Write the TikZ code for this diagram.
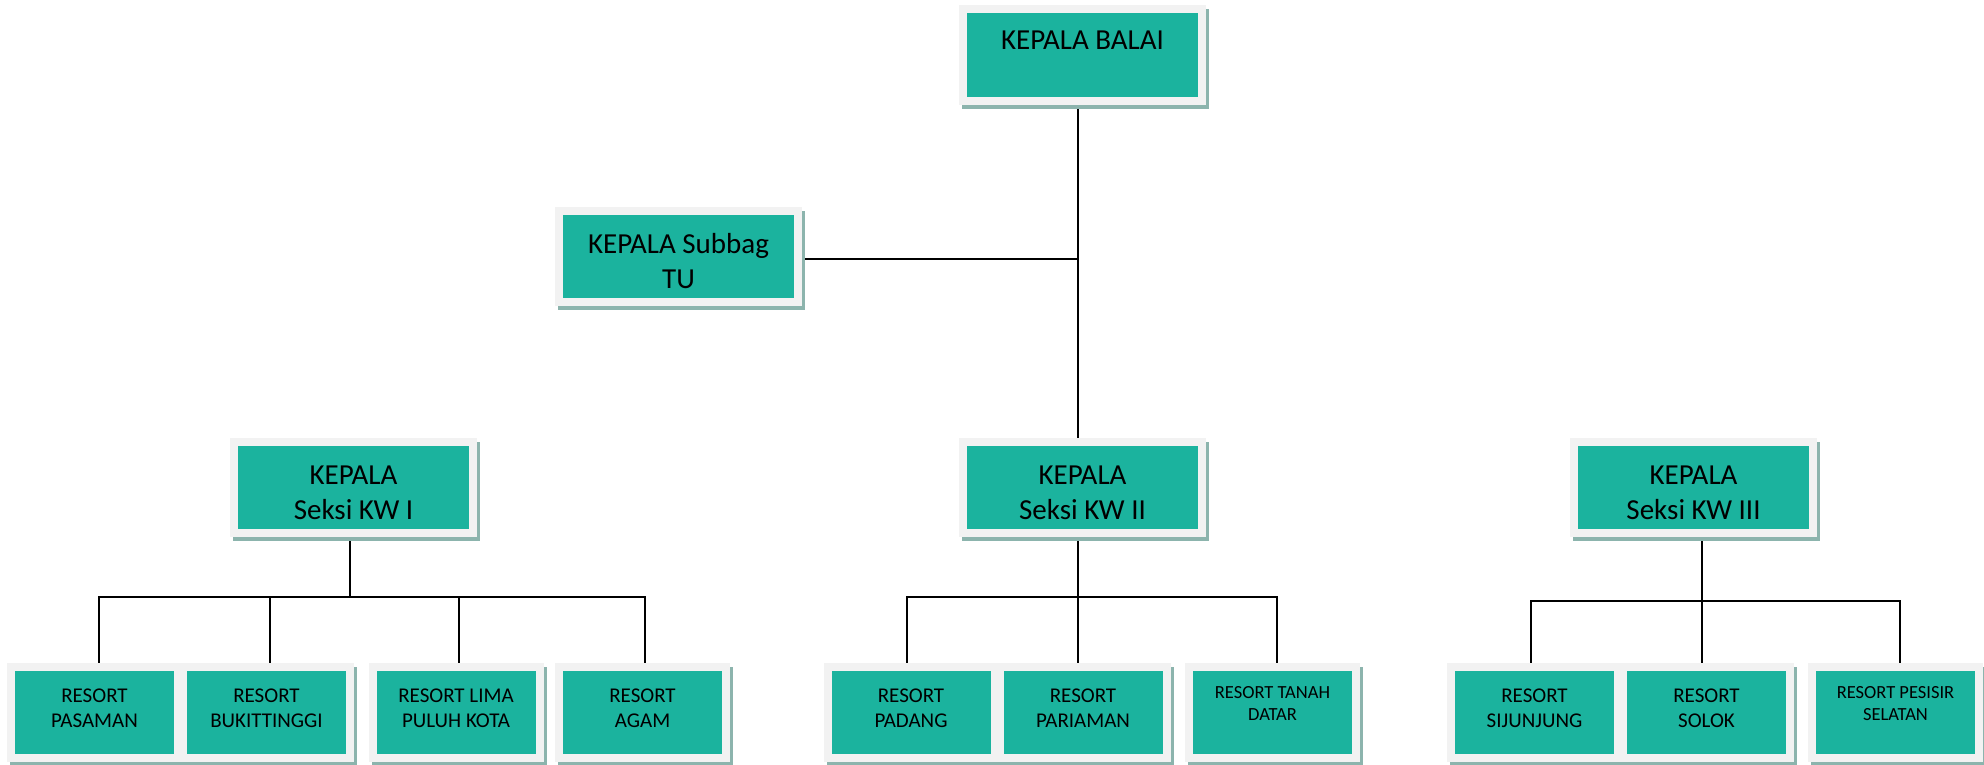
\documentclass[tikz,border=0pt]{standalone}
\usepackage{fontspec}
\setmainfont{Carlito}
\usetikzlibrary{backgrounds}
\definecolor{tealbox}{RGB}{27,179,158}
\definecolor{framegray}{RGB}{242,242,242}
\definecolor{shadowc}{RGB}{140,180,173}
\newcommand\boxtxt[6]{\parbox[c][#2][t]{#1}{\centering\fontsize{#4}{#5}\selectfont\rule{0pt}{#3}#6\par}}
\newcommand\topb[1]{\boxtxt{231pt}{83pt}{38pt}{29}{35}{#1}}
\newcommand\resb[1]{\boxtxt{159pt}{83pt}{31pt}{21}{25.6}{#1}}
\newcommand\resc[1]{\boxtxt{159pt}{83pt}{27pt}{18.5}{22.6}{#1}}
\tikzset{
  orgbox/.style={fill=tealbox, draw=framegray, line width=8pt, inner sep=4pt, outer sep=0pt,
    preaction={draw=shadowc, fill=shadowc, line width=8pt, transform canvas={xshift=3pt,yshift=-4pt}}},
  link/.style={line width=1.6pt, draw=black}
}
\begin{document}
\begin{tikzpicture}[x=1pt,y=-1pt]
\useasboundingbox (0,0) rectangle (1984,765);
% top level
\node[orgbox] (balai)  at (1082.5,55)  {\boxtxt{231pt}{84pt}{37pt}{29}{35}{KEPALA BALAI}};
\node[orgbox] (subbag) at (678.5,256.5) {\topb{KEPALA Subbag\\TU}};
\node[orgbox] (kw1) at (353.5,487.5)  {\topb{KEPALA\\Seksi KW I}};
\node[orgbox] (kw2) at (1082.5,487.5) {\topb{KEPALA\\Seksi KW II}};
\node[orgbox] (kw3) at (1693.5,487.5) {\topb{KEPALA\\Seksi KW III}};
% resorts
\node[orgbox] (pasaman) at (94.5,712.5)  {\resb{RESORT\\PASAMAN}};
\node[orgbox] (bukit)   at (266.5,712.5) {\resb{RESORT\\BUKITTINGGI}};
\node[orgbox] (lima)    at (456,712.5)   {\resb{RESORT LIMA\\PULUH KOTA}};
\node[orgbox] (agam)    at (642.5,712.5) {\resb{RESORT\\AGAM}};
\node[orgbox] (padang)  at (911,712.5)   {\resb{RESORT\\PADANG}};
\node[orgbox] (pariaman) at (1083,712.5) {\resb{RESORT\\PARIAMAN}};
\node[orgbox] (tanah)   at (1272.5,712.5) {\resc{RESORT TANAH\\DATAR}};
\node[orgbox] (sijunjung) at (1534.5,712.5) {\resb{RESORT\\SIJUNJUNG}};
\node[orgbox] (solok)   at (1706.5,712.5) {\resb{RESORT\\SOLOK}};
\node[orgbox] (pesisir) at (1895.5,712.5) {\resc{RESORT PESISIR\\SELATAN}};
% connector anchors
\coordinate (spine) at ([xshift=-4.5pt]balai.south);
\coordinate (sb) at ([yshift=-2.5pt]subbag.east);
\coordinate (k1) at ([xshift=-3.5pt]kw1.south);
\coordinate (k2) at ([xshift=-4.5pt]kw2.south);
\coordinate (k3) at ([xshift=8.5pt]kw3.south);
\coordinate (bar1) at (0,597);
\coordinate (bar2) at (0,597);
\coordinate (bar3) at (0,601);
\coordinate (dpas) at ([xshift=4.5pt]pasaman.north);
\coordinate (dbuk) at ([xshift=3.5pt]bukit.north);
\coordinate (dlim) at ([xshift=3pt]lima.north);
\coordinate (dagm) at ([xshift=2.5pt]agam.north);
\coordinate (dpad) at ([xshift=-4pt]padang.north);
\coordinate (dpar) at ([xshift=-5pt]pariaman.north);
\coordinate (dtan) at ([xshift=4.5pt]tanah.north);
\coordinate (dsij) at ([xshift=-3.5pt]sijunjung.north);
\coordinate (dsol) at ([xshift=-4.5pt]solok.north);
\coordinate (dpes) at ([xshift=4.5pt]pesisir.north);
\begin{scope}[on background layer]
\fill[white] (0,0) rectangle (1984,765);
\draw[link] (spine) -- (spine |- kw2.north);
\draw[link] (sb) -- (sb -| spine);
\foreach \c in {dpas,dbuk,dlim,dagm}{\draw[link] (k1) |- (\c |- bar1) -- (\c);}
\foreach \c in {dpad,dpar,dtan}{\draw[link] (k2) |- (\c |- bar2) -- (\c);}
\foreach \c in {dsij,dsol,dpes}{\draw[link] (k3) |- (\c |- bar3) -- (\c);}
\end{scope}
\end{tikzpicture}
\end{document}
